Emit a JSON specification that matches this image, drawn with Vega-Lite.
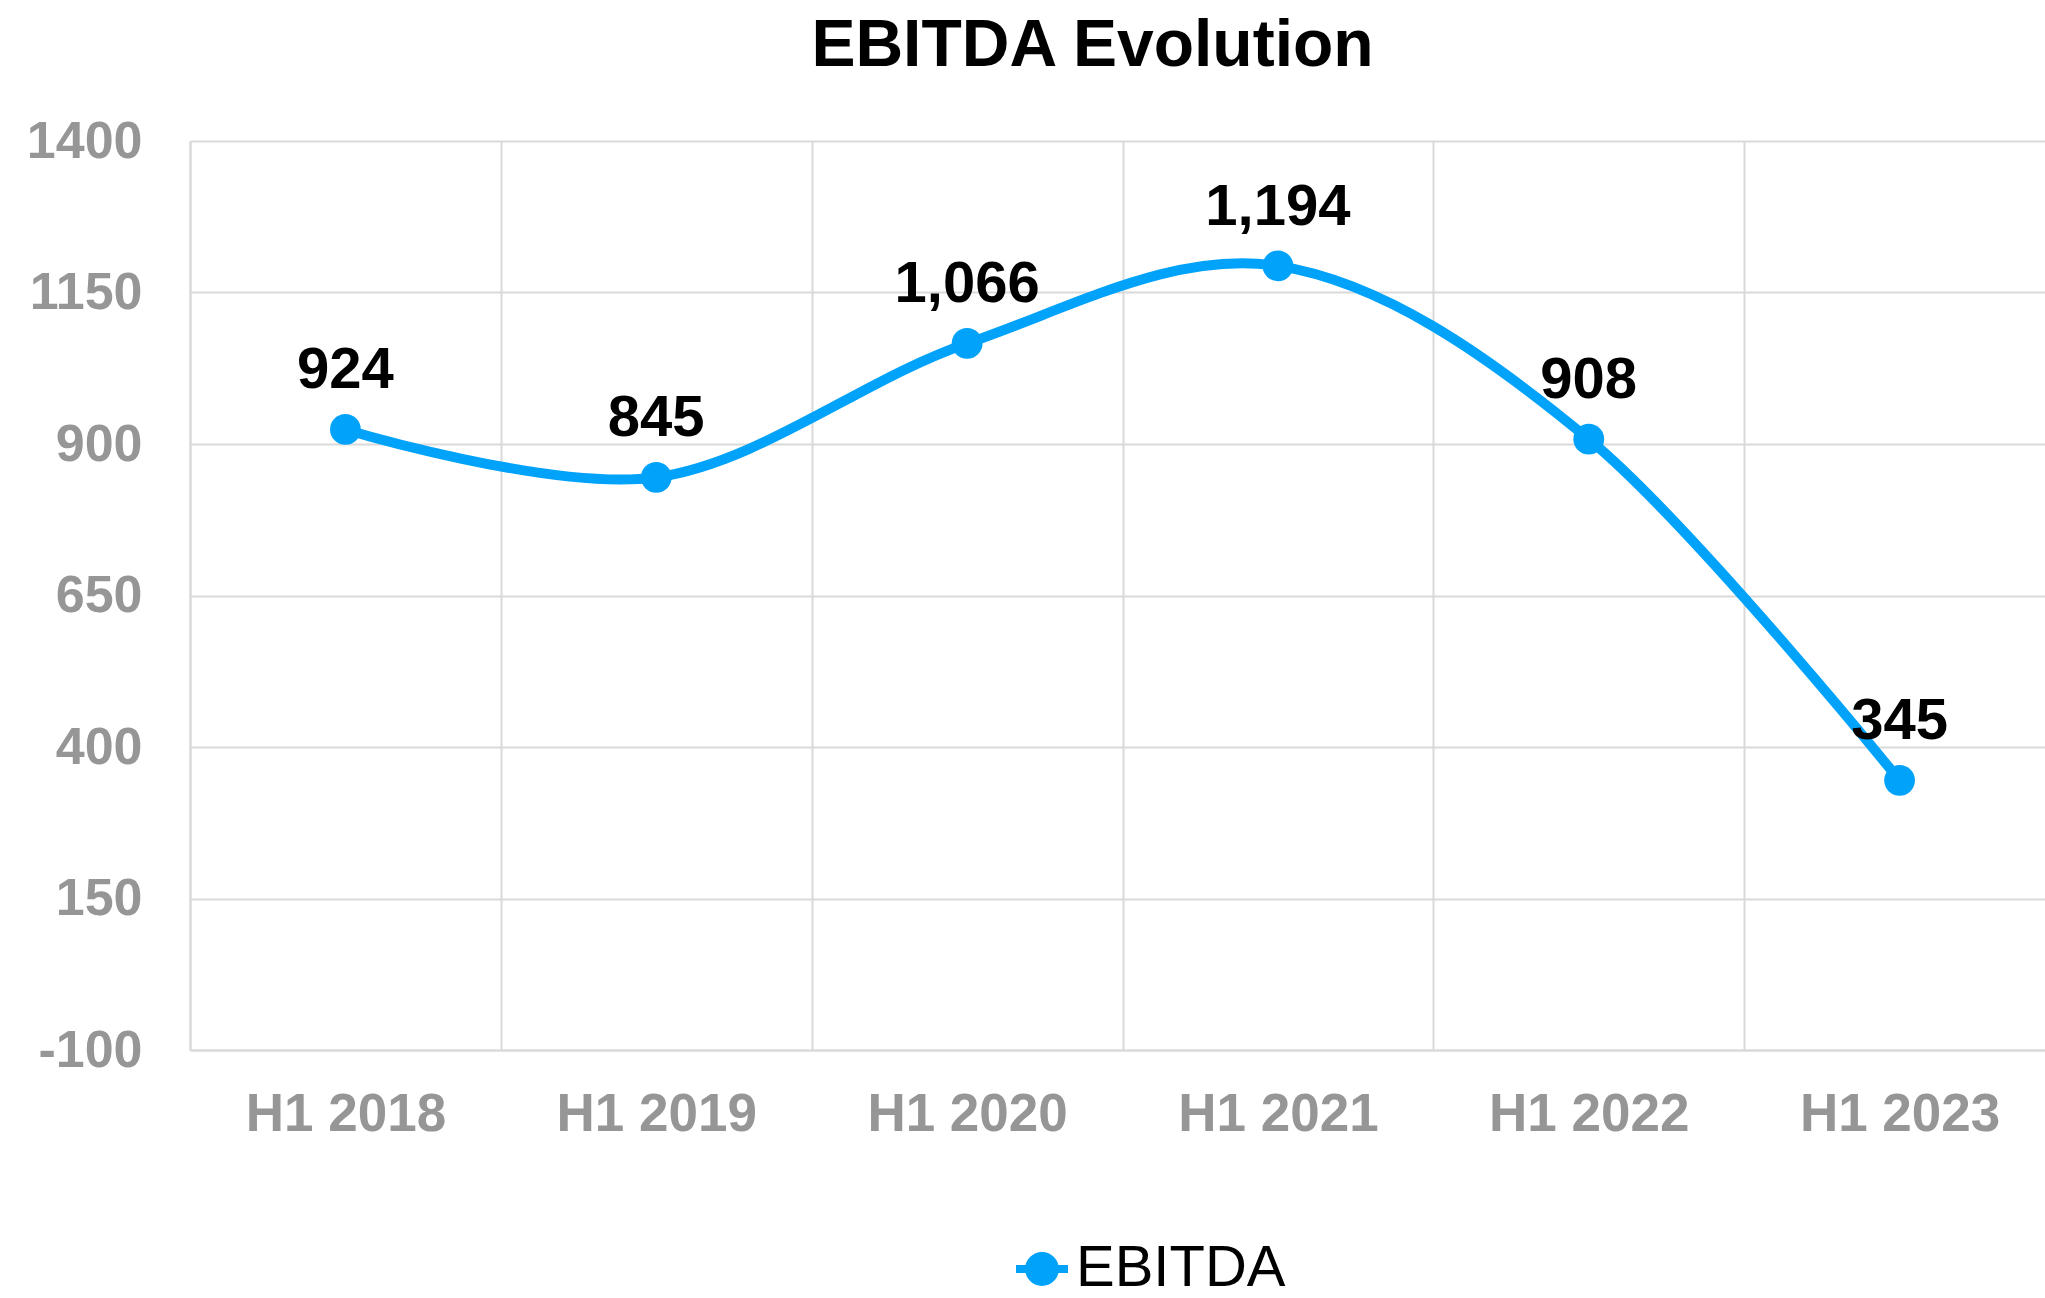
{
  "$schema": "https://vega.github.io/schema/vega-lite/v6.json",
  "width": 1865,
  "height": 909,
  "autosize": {"type": "none"},
  "padding": {"left": 190, "top": 141, "right": -10, "bottom": 248},
  "background": "white",
  "title": {"text": "EBITDA Evolution", "font": "Liberation Sans", "fontSize": 66, "fontWeight": "bold", "color": "#000000", "anchor": "middle", "dx": -30, "offset": 35, "limit": 0},
  "config": {"view": {"stroke": null}},
  "data": {"values": [
    {"period": "H1 2018", "value": 924, "series": "EBITDA"},
    {"period": "H1 2019", "value": 845, "series": "EBITDA"},
    {"period": "H1 2020", "value": 1066, "series": "EBITDA"},
    {"period": "H1 2021", "value": 1194, "series": "EBITDA"},
    {"period": "H1 2022", "value": 908, "series": "EBITDA"},
    {"period": "H1 2023", "value": 345, "series": "EBITDA"}
  ]},
  "encoding": {
    "x": {"field": "period", "type": "ordinal", "sort": null,
      "scale": {"type": "band", "paddingInner": 0, "paddingOuter": 0},
      "axis": {"title": null, "labelAngle": 0, "labelLimit": 0, "labelFont": "Liberation Sans", "labelFontSize": 53, "labelFontWeight": "bold", "labelColor": "#969696", "labelPadding": 80, "labelBaseline": "alphabetic", "ticks": false, "tickSize": 0, "tickBand": "extent", "grid": true, "gridColor": "#D9D9D9", "gridWidth": 2, "domainColor": "#D9D9D9", "domainWidth": 2}},
    "y": {"field": "value", "type": "quantitative",
      "scale": {"domain": [-100, 1400], "nice": false, "zero": false},
      "axis": {"title": null, "values": [-100, 150, 400, 650, 900, 1150, 1400], "labelExpr": "'' + datum.value", "labelLimit": 0, "labelFont": "Liberation Sans", "labelFontSize": 52, "labelFontWeight": "bold", "labelColor": "#969696", "labelPadding": 48, "ticks": false, "tickSize": 0, "grid": true, "gridColor": "#D9D9D9", "gridWidth": 2, "domainColor": "#D9D9D9", "domainWidth": 2}}
  },
  "layer": [
    {"mark": {"type": "line", "interpolate": "cardinal", "tension": 0, "color": "#00A2FA", "strokeWidth": 10}, "encoding": {}},
    {"mark": {"type": "point", "filled": true, "size": 950, "opacity": 1},
      "encoding": {"color": {"field": "series", "type": "nominal", "scale": {"range": ["#00A2FA"]},
        "legend": {"title": null, "orient": "none", "legendX": 823, "legendY": 1099,
          "symbolType": "M-1,-0.15L-0.62,-0.15L-0.62,0.15L-1,0.15Z M0.62,-0.15L1,-0.15L1,0.15L0.62,0.15Z M-0.65,0A0.65,0.65 0 1,1 0.65,0A0.65,0.65 0 1,1 -0.65,0Z",
          "symbolSize": 2704, "symbolFillColor": "#00A2FA", "symbolStrokeWidth": 0, "symbolOpacity": 1, "labelLimit": 0,
          "labelFont": "Liberation Sans", "labelFontSize": 58, "labelColor": "#000000", "labelOffset": 5, "padding": 0}}}},
    {"mark": {"type": "text", "dy": -41, "baseline": "alphabetic", "font": "Liberation Sans", "fontSize": 58, "fontWeight": "bold", "color": "#000000"},
      "encoding": {"text": {"field": "value", "type": "quantitative", "format": ","}}}
  ]
}
